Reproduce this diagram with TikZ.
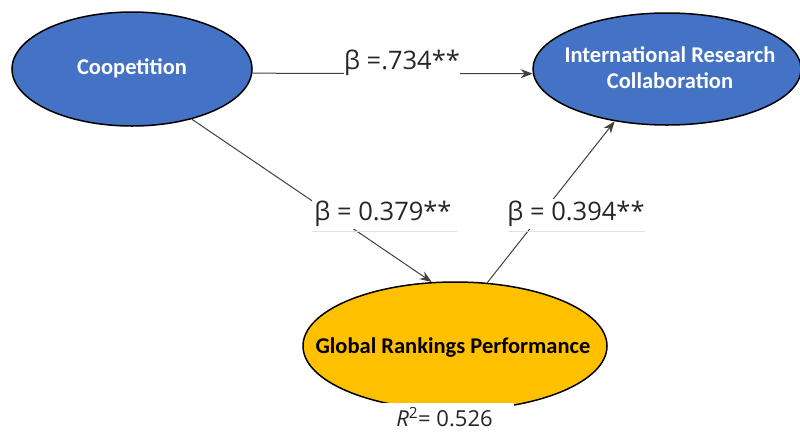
\documentclass[tikz,border=0pt]{standalone}
\usepackage{fontspec}
\setmainfont{Open Sans}
\newfontfamily\carlito{Carlito}
\usetikzlibrary{shapes.geometric,arrows.meta}
\definecolor{cblue}{HTML}{4472C4}
\definecolor{cgold}{HTML}{FFC000}
\begin{document}
\begin{tikzpicture}[x=1pt,y=-1pt,
  construct/.style={ellipse, draw=black, line width=1.5pt, inner sep=0pt},
  ctext/.style={align=center, inner sep=0pt, font=\carlito\bfseries\fontsize{22.5}{26}\selectfont},
  connector/.style={draw=black!75, line width=1pt, -{Stealth[length=12pt,width=9pt]}},
  coef/.style={fill=white, inner sep=2pt, text=black!85, font=\fontsize{25.5}{29}\selectfont},
  underline/.style={draw=black!12, line width=1pt}]
\useasboundingbox[fill=white] (0,0) rectangle (800,432);
\node[construct, fill=cblue, minimum width=240pt, minimum height=114pt] (coop) at (132,69) {};
\node[ctext, text=white] (coopt) at (132,68) {Coopetition};
\node[construct, fill=cblue, minimum width=268pt, minimum height=112pt] (irc) at (667,69) {};
\node[ctext, text=white] (irct) at (670,68) {International Research\\Collaboration};
\node[construct, fill=cgold, minimum width=304pt, minimum height=128pt] (grp) at (455,346) {};
\node[ctext, text=black] (grpt) at (453,348) {Global Rankings Performance};
\draw[connector] (coop.-2) -- (irc.182);
\draw[connector] (coop.-40) -- (grp.110);
\draw[connector] (grp.63) -- (irc.-135);
\draw[underline] (312,231) -- (457,231);
\draw[underline] (508,231) -- (645,231);
\node[coef, inner xsep=0pt] (b1) at (402,63) {β =.734**};
\node[coef] (b2) at (383,214) {β = 0.379**};
\node[coef] (b3) at (576,214) {β = 0.394**};
\node[fill=white, minimum width=139pt, minimum height=28pt, inner sep=0pt,
  text=black!85, font=\fontsize{22}{26}\selectfont] (r2) at (444.5,417) {\textit{R}\textsuperscript{2}= 0.526};
\end{tikzpicture}
\end{document}
